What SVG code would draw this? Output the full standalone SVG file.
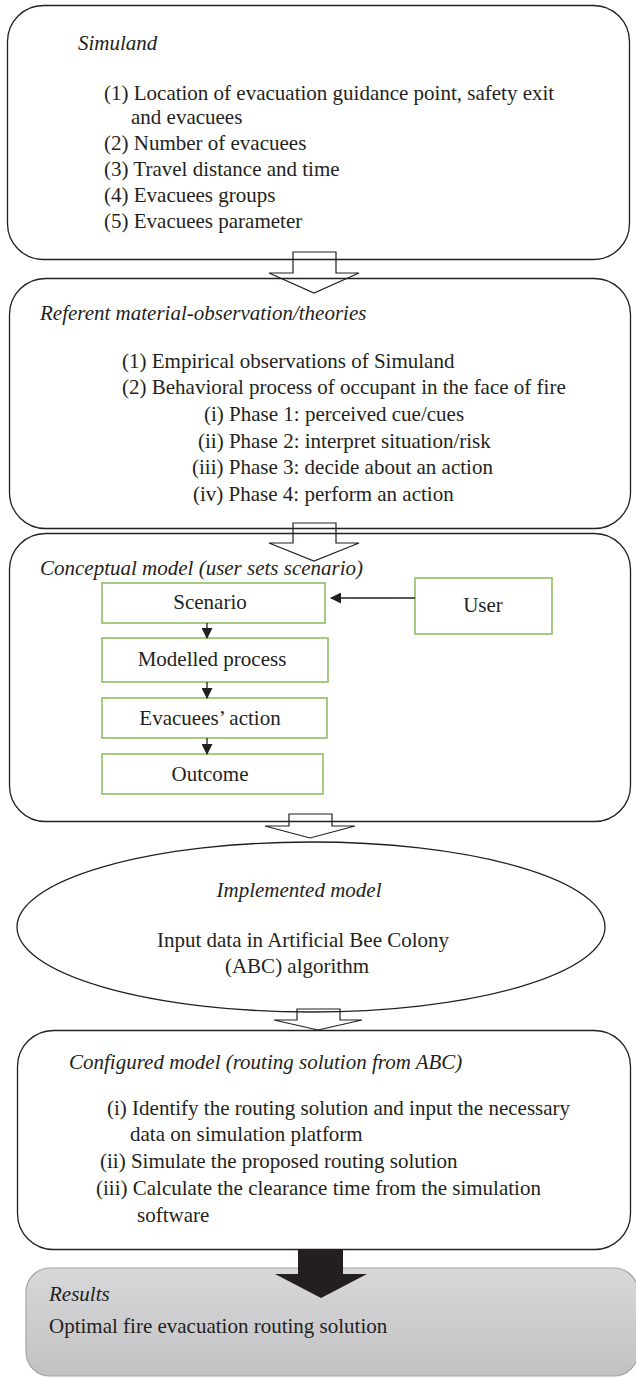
<svg xmlns="http://www.w3.org/2000/svg" width="636" height="1378" viewBox="0 0 636 1378">
<style>
text{font-family:"Liberation Serif","Times New Roman",serif;font-size:21px;fill:#231f20}
.it{font-style:italic}
.box{fill:none;stroke:#231f20;stroke-width:1.3}
.g{fill:#fff;stroke:#8cc063;stroke-width:1.6}
.ha{fill:none;stroke:#231f20;stroke-width:1.2}
.ln{stroke:#231f20;stroke-width:1.3;fill:none}
.m{text-anchor:middle}
</style>
<defs>
<marker id="ah" markerWidth="11" markerHeight="11" refX="10" refY="5.5" orient="auto" markerUnits="userSpaceOnUse">
<path d="M0,0 L11,5.5 L0,11 Z" fill="#231f20"/>
</marker>
<linearGradient id="gr" x1="0" y1="0" x2="0" y2="1">
<stop offset="0" stop-color="#d8d8da"/>
<stop offset="1" stop-color="#c2c2c4"/>
</linearGradient>
</defs>

<g id="simuland">
<rect class="box" x="7.5" y="5.5" width="622" height="254" rx="36"/>
<text class="it" x="78" y="50">Simuland</text>
<text x="104" y="100">(1) Location of evacuation guidance point, safety exit</text>
<text x="131" y="124">and evacuees</text>
<text x="104" y="150">(2) Number of evacuees</text>
<text x="104" y="176">(3) Travel distance and time</text>
<text x="104" y="202">(4) Evacuees groups</text>
<text x="104" y="228">(5) Evacuees parameter</text>
</g>

<g id="referent">
<rect class="box" x="9.5" y="278.5" width="621" height="250" rx="36"/>
<text class="it" x="40" y="320">Referent material-observation/theories</text>
<text x="122" y="368">(1) Empirical observations of Simuland</text>
<text x="122" y="394">(2) Behavioral process of occupant in the face of fire</text>
<text x="204" y="421">(i) Phase 1: perceived cue/cues</text>
<text x="198" y="448">(ii) Phase 2: interpret situation/risk</text>
<text x="192" y="474">(iii) Phase 3: decide about an action</text>
<text x="193" y="501">(iv) Phase 4: perform an action</text>
</g>

<g id="conceptual">
<rect class="box" x="9.5" y="533.5" width="621" height="288" rx="36"/>
<text class="it" x="40" y="575">Conceptual model (user sets scenario)</text>
</g>
<g id="scenario">
<rect class="g" x="102" y="583" width="223" height="40"/>
<text class="m" x="210" y="609">Scenario</text>
</g>
<g id="user">
<rect class="g" x="415" y="578" width="137" height="56"/>
<text class="m" x="483" y="612">User</text>
</g>
<g id="modelled">
<rect class="g" x="102" y="638" width="226" height="44"/>
<text class="m" x="212" y="666">Modelled process</text>
</g>
<g id="evacuees-action">
<rect class="g" x="102" y="698" width="225" height="40"/>
<text class="m" x="210" y="725">Evacuees’ action</text>
</g>
<g id="outcome">
<rect class="g" x="102" y="754" width="221" height="40"/>
<text class="m" x="210" y="781">Outcome</text>
</g>

<g id="implemented">
<ellipse class="box" cx="311" cy="927" rx="294" ry="85"/>
<text class="it m" x="299" y="897">Implemented model</text>
<text class="m" x="303" y="947">Input data in Artificial Bee Colony</text>
<text class="m" x="297" y="973">(ABC) algorithm</text>
</g>

<g id="configured">
<rect class="box" x="17.5" y="1030.5" width="613" height="219" rx="36"/>
<text class="it" x="69" y="1069">Configured model (routing solution from ABC)</text>
<text x="107" y="1115">(i) Identify the routing solution and input the necessary</text>
<text x="130" y="1141">data on simulation platform</text>
<text x="100" y="1168">(ii) Simulate the proposed routing solution</text>
<text x="96" y="1195">(iii) Calculate the clearance time from the simulation</text>
<text x="137" y="1222">software</text>
</g>

<g id="results">
<rect x="26" y="1268" width="612" height="108" rx="24" fill="url(#gr)" stroke="#a4a4a6" stroke-width="1.2"/>
<text class="it" x="49" y="1301">Results</text>
<text x="49" y="1333">Optimal fire evacuation routing solution</text>
</g>

<g id="connectors">
<path class="ha" d="M293,252 L336,252 L336,273 L359,273 L314,293 L269,273 L293,273 Z"/>
<path class="ha" d="M293,523 L336,523 L336,543 L359,543 L314,561 L269,543 L293,543 Z"/>
<path class="ha" d="M289,814 L332,814 L332,826 L355,826 L310,838 L265,826 L289,826 Z"/>
<path class="ha" d="M297,1009 L340,1009 L340,1020 L362,1020 L318,1030 L274,1020 L297,1020 Z"/>
<path d="M298,1250 L343,1250 L343,1274 L367,1274 L321,1298 L275,1274 L298,1274 Z" fill="#231f20"/>
<line class="ln" x1="207" y1="623" x2="207" y2="638" marker-end="url(#ah)"/>
<line class="ln" x1="207" y1="682" x2="207" y2="698" marker-end="url(#ah)"/>
<line class="ln" x1="207" y1="738" x2="207" y2="754" marker-end="url(#ah)"/>
<line class="ln" x1="415" y1="598" x2="331" y2="598" marker-end="url(#ah)"/>
</g>
</svg>
